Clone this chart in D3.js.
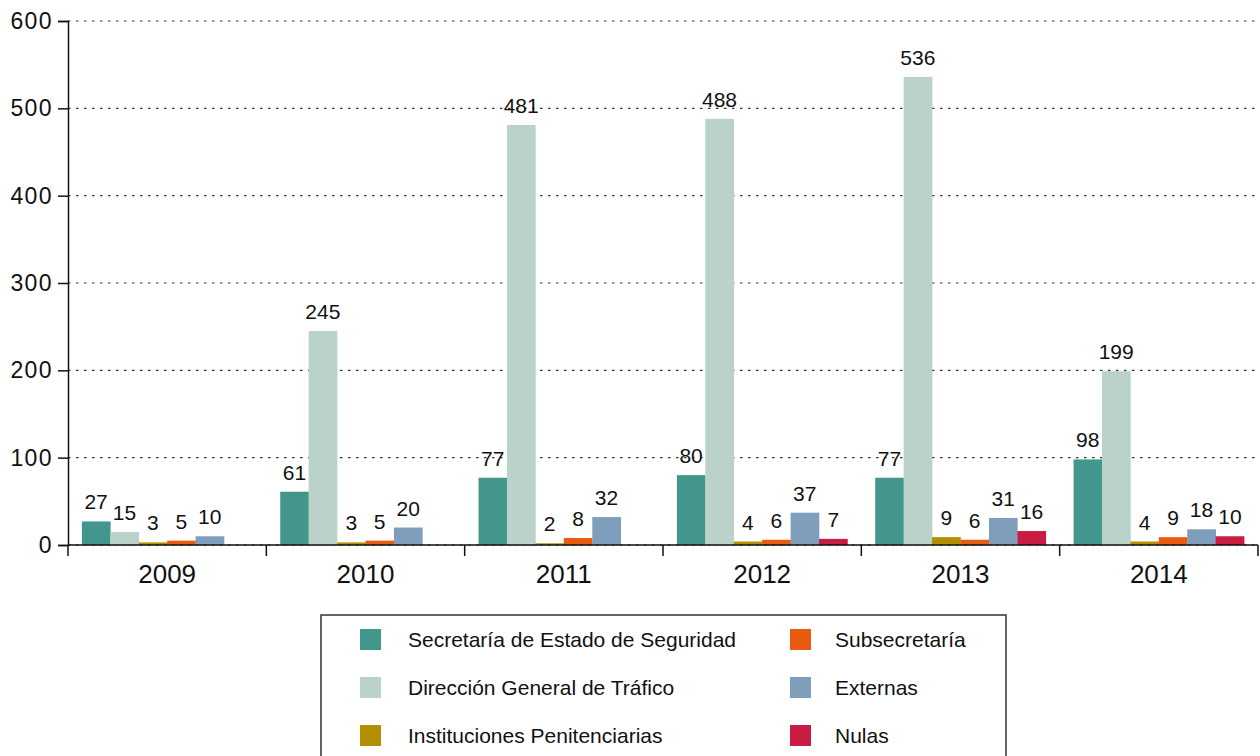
<!DOCTYPE html>
<html>
<head>
<meta charset="utf-8">
<script src="https://cdn.jsdelivr.net/npm/d3@7"></script>
<style>
  html, body { margin: 0; padding: 0; background: #fff; }
  svg { display: block; font-family: "Liberation Sans", Arial, Helvetica, sans-serif; }
</style>
</head>
<body>
<svg id="chart" width="1260" height="756"></svg>
<script>
const years = ["2009", "2010", "2011", "2012", "2013", "2014"];
const seriesNames = [
  "Secretaría de Estado de Seguridad",
  "Dirección General de Tráfico",
  "Instituciones Penitenciarias",
  "Subsecretaría",
  "Externas",
  "Nulas"
];
const sesValues   = [27, 61, 77, 80, 77, 98];
const dgtValues   = [15, 245, 481, 488, 536, 199];
const iippValues  = [3, 3, 2, 4, 9, 4];
const subsValues  = [5, 5, 8, 6, 6, 9];
const extValues   = [10, 20, 32, 37, 31, 18];
const nulasValues = [null, null, null, 7, 16, 10];
const yTicks = [0, 100, 200, 300, 400, 500, 600];
const colors = ["#43968c", "#bbd2ca", "#b38f02", "#e85b10", "#7f9ebb", "#c91c42"];

const allSeries = [sesValues, dgtValues, iippValues, subsValues, extValues, nulasValues];

(function draw() {
const svg = d3.select("#chart");
const mLeft = 68, mRight = 1258, mTop = 21, mBottom = 545;

const x0 = d3.scaleBand().domain(years).range([mLeft, mRight]).paddingInner(0.14).paddingOuter(0.07);
const x1 = d3.scaleBand().domain(d3.range(seriesNames.length)).range([0, x0.bandwidth()]);
const y = d3.scaleLinear().domain([0, 600]).range([mBottom, mTop]);

// gridlines
svg.append("g").selectAll("line").data(yTicks).join("line")
  .attr("x1", mLeft).attr("x2", mRight)
  .attr("y1", d => y(d)).attr("y2", d => y(d))
  .attr("stroke", "#333").attr("stroke-width", 1.2)
  .attr("stroke-dasharray", "2.5,5.5");

// bars
const groups = svg.append("g").selectAll("g").data(years).join("g")
  .attr("transform", d => `translate(${x0(d)},0)`);

groups.each(function(yr, i) {
  const g = d3.select(this);
  const vals = allSeries.map((s, k) => ({k, v: s[i]})).filter(d => d.v != null);
  g.selectAll("rect").data(vals).join("rect")
    .attr("x", d => x1(d.k))
    .attr("width", x1.bandwidth() + 0.3)
    .attr("y", d => y(d.v))
    .attr("height", d => y(0) - y(d.v))
    .attr("fill", d => colors[d.k]);
  g.selectAll("text").data(vals).join("text")
    .attr("x", d => x1(d.k) + x1.bandwidth() / 2)
    .attr("y", d => y(d.v) - 12)
    .attr("text-anchor", "middle")
    .attr("font-size", 21)
    .attr("fill", "#111")
    .text(d => d.v);
});

// y axis
const yAxis = d3.axisLeft(y).tickValues(yTicks).tickSize(10).tickPadding(5);
const ya = svg.append("g").attr("transform", `translate(${mLeft},0)`).call(yAxis);
ya.select(".domain").attr("stroke", "#111").attr("stroke-width", 1.5);
ya.selectAll(".tick line").attr("stroke", "#111").attr("stroke-width", 1.5);
ya.selectAll(".tick text").attr("font-size", 23).attr("fill", "#111")
  .attr("font-family", "'Liberation Sans', Arial, sans-serif").style("letter-spacing", "1.4px");

// x axis: baseline and boundary ticks
svg.append("line").attr("x1", mLeft).attr("x2", mRight).attr("y1", y(0)).attr("y2", y(0))
  .attr("stroke", "#111").attr("stroke-width", 1.5);
const boundaries = years.map(d => x0(d) - x0.step() * x0.paddingInner() / 2);
boundaries.push(mRight);
svg.append("g").selectAll("line").data(boundaries).join("line")
  .attr("x1", d => d).attr("x2", d => d)
  .attr("y1", y(0)).attr("y2", y(0) + 11)
  .attr("stroke", "#111").attr("stroke-width", 1.5);
svg.append("g").selectAll("text").data(years).join("text")
  .attr("x", d => x0(d) + x0.bandwidth() / 2)
  .attr("y", 583)
  .attr("text-anchor", "middle")
  .attr("font-size", 26)
  .attr("fill", "#111")
  .text(d => d);

// legend
const lg = svg.append("g");
lg.append("rect").attr("x", 321).attr("y", 615).attr("width", 685).attr("height", 160)
  .attr("fill", "none").attr("stroke", "#333").attr("stroke-width", 1.5);
const legendItems = seriesNames.map((name, k) => ({name, k}));
const cols = [360, 790];
const textCols = [408, 835];
const rows = [629, 677, 725];
const li = lg.selectAll("g").data(legendItems).join("g");
li.append("rect")
  .attr("x", d => cols[d.k < 3 ? 0 : 1])
  .attr("y", d => rows[d.k % 3])
  .attr("width", 21).attr("height", 21)
  .attr("fill", d => colors[d.k]);
li.append("text")
  .attr("x", d => textCols[d.k < 3 ? 0 : 1])
  .attr("y", d => rows[d.k % 3] + 18)
  .attr("font-size", 21)
  .attr("fill", "#111")
  .text(d => d.name);
})();
</script>
</body>
</html>
